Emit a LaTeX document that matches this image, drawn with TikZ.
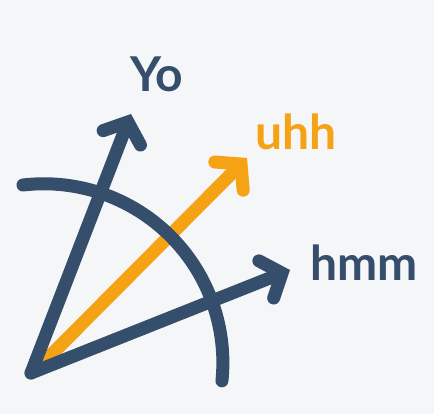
\documentclass[tikz,border=0pt]{standalone}
\usepackage{fontspec}
\setmainfont{Lato}
\usetikzlibrary{arrows.meta}
\definecolor{navy}{HTML}{344E6C}
\definecolor{amber}{HTML}{F5A214}
\definecolor{bg}{HTML}{F4F6F8}
\tikzset{
  vec/.style={line width=13pt, line cap=round,
    -{Straight Barb[length=17pt,width=40pt,line cap=round,line join=miter]}},
  lbl/.style={font=\fontsize{48}{52}\selectfont\bfseries, anchor=base west, inner sep=0pt}
}
\begin{document}
\begin{tikzpicture}[x=1pt,y=-1pt]
\fill[bg] (0,0) rectangle (434,414);
\useasboundingbox (0,0) rectangle (434,414);
\coordinate (V) at (31,373);
\coordinate (O) at (38,368);
\coordinate (C) at (44,363);
\coordinate (tyo) at (131,114);
\coordinate (tuhh) at (247,158);
\coordinate (thmm) at (290,270);
\coordinate (A) at (23,185);
% orange vector
\draw[vec, amber, line cap=butt] (O) -- (tuhh);
% dark vectors
\draw[vec, navy] (V) -- (tyo);
\draw[vec, navy] (V) -- (thmm);
% arc
\draw[navy, line width=13pt, line cap=round] (A) arc[start angle=-96.7, end angle=5.8, radius=179];
% labels
\node[lbl, text=navy] (yo) at (130,92) {Yo};
\node[lbl, text=amber] (uhh) at (255,150) {uhh};
\node[lbl, text=navy] (hmm) at (310,280) {hmm};
\end{tikzpicture}
\end{document}
